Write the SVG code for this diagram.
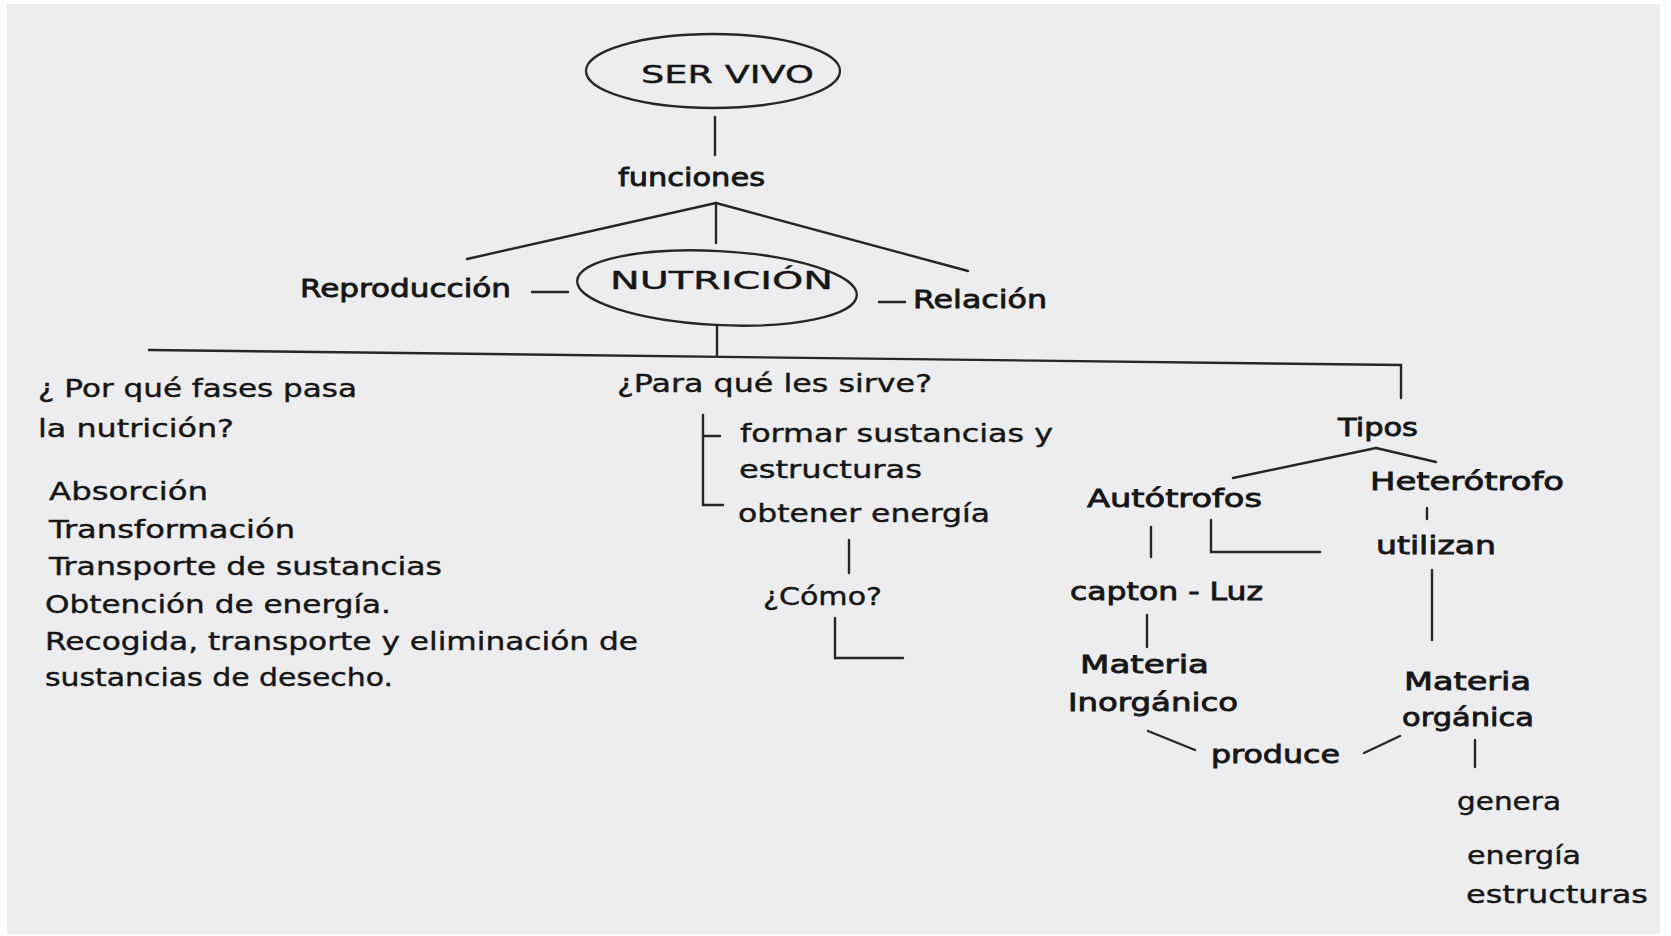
<svg xmlns="http://www.w3.org/2000/svg" width="1671" height="936" viewBox="0 0 1671 936">
<style>
text{font-family:"DejaVu Sans","Liberation Sans",sans-serif;font-size:24px;fill:#161616;stroke:#161616;stroke-width:0.4}
.b{stroke-width:0.8}
.c line,.c polyline,.c path{stroke:#262626;stroke-width:2.4;fill:none;stroke-linecap:round}
.e{fill:none;stroke:#262626;stroke-width:2.3}
</style>
<rect x="0" y="0" width="1671" height="936" fill="#ffffff"/>
<rect x="7" y="4" width="1653" height="930" fill="#ededf0"/>

<g id="connectors" class="c">
<line x1="715" y1="117" x2="715" y2="155"/>
<line x1="716" y1="203" x2="467" y2="259"/>
<line x1="716" y1="203" x2="968" y2="271"/>
<line x1="716" y1="203" x2="716" y2="243"/>
<line x1="532" y1="292" x2="568" y2="292"/>
<line x1="879" y1="302" x2="905" y2="302"/>
<line x1="717" y1="325" x2="717" y2="355"/>
<polyline points="149,350 1401,365 1401,398"/>
<polyline points="720,436 703,436"/>
<polyline points="703,415 703,505 723,505"/>
<line x1="849" y1="540" x2="849" y2="573"/>
<polyline points="835,618 835,658 903,658"/>
<line x1="1233" y1="478" x2="1376" y2="448"/>
<line x1="1376" y1="448" x2="1436" y2="462"/>
<line x1="1427" y1="508" x2="1427" y2="519"/>
<line x1="1151" y1="527" x2="1151" y2="557"/>
<polyline points="1211,520 1211,552 1320,552"/>
<line x1="1432" y1="570" x2="1432" y2="640"/>
<line x1="1147" y1="615" x2="1147" y2="647"/>
<line x1="1148" y1="731" x2="1195" y2="750"/>
<line x1="1364" y1="753" x2="1400" y2="736"/>
<line x1="1475" y1="740" x2="1475" y2="767"/>
</g>

<g id="ser-vivo">
<ellipse class="e" cx="713" cy="71" rx="127" ry="37"/>
<text x="641" y="83" textLength="173" lengthAdjust="spacingAndGlyphs">SER VIVO</text>
</g>
<g id="funciones"><text class="b" x="618" y="186" textLength="147" lengthAdjust="spacingAndGlyphs">funciones</text></g>
<g id="reproduccion"><text class="b" x="300" y="297" textLength="211" lengthAdjust="spacingAndGlyphs">Reproducción</text></g>
<g id="nutricion">
<ellipse class="e" cx="717" cy="288" rx="140" ry="37" transform="rotate(3 717 288)"/>
<text x="610" y="289" textLength="223" lengthAdjust="spacingAndGlyphs">NUTRICIÓN</text>
</g>
<g id="relacion"><text class="b" x="913" y="308" textLength="134" lengthAdjust="spacingAndGlyphs">Relación</text></g>

<g id="fases">
<text x="38" y="397" textLength="319" lengthAdjust="spacingAndGlyphs">¿ Por qué fases pasa</text>
<text x="38" y="437" textLength="196" lengthAdjust="spacingAndGlyphs">la nutrición?</text>
<text x="49" y="500" textLength="159" lengthAdjust="spacingAndGlyphs">Absorción</text>
<text x="49" y="538" textLength="246" lengthAdjust="spacingAndGlyphs">Transformación</text>
<text x="49" y="575" textLength="393" lengthAdjust="spacingAndGlyphs">Transporte de sustancias</text>
<text x="45" y="613" textLength="346" lengthAdjust="spacingAndGlyphs">Obtención de energía.</text>
<text x="45" y="650" textLength="593" lengthAdjust="spacingAndGlyphs">Recogida, transporte y eliminación de</text>
<text x="45" y="686" textLength="348" lengthAdjust="spacingAndGlyphs">sustancias de desecho.</text>
</g>

<g id="para-que">
<text x="617" y="392" textLength="315" lengthAdjust="spacingAndGlyphs">¿Para qué les sirve?</text>
</g>
<g id="formar">
<text x="740" y="442" textLength="313" lengthAdjust="spacingAndGlyphs">formar sustancias y</text>
<text x="739" y="478" textLength="183" lengthAdjust="spacingAndGlyphs">estructuras</text>
</g>
<g id="obtener"><text x="738" y="522" textLength="252" lengthAdjust="spacingAndGlyphs">obtener energía</text></g>
<g id="como"><text x="763" y="605" textLength="119" lengthAdjust="spacingAndGlyphs">¿Cómo?</text></g>

<g id="tipos"><text class="b" x="1338" y="436" textLength="80" lengthAdjust="spacingAndGlyphs">Tipos</text></g>
<g id="autotrofos"><text class="b" x="1087" y="507" textLength="175" lengthAdjust="spacingAndGlyphs">Autótrofos</text></g>
<g id="heterotrofo"><text class="b" x="1370" y="490" textLength="194" lengthAdjust="spacingAndGlyphs">Heterótrofo</text></g>
<g id="utilizan"><text class="b" x="1376" y="554" textLength="120" lengthAdjust="spacingAndGlyphs">utilizan</text></g>
<g id="capton"><text class="b" x="1070" y="600" textLength="193" lengthAdjust="spacingAndGlyphs">capton - Luz</text></g>
<g id="materia-inorganico">
<text class="b" x="1080" y="673" textLength="129" lengthAdjust="spacingAndGlyphs">Materia</text>
<text class="b" x="1068" y="711" textLength="170" lengthAdjust="spacingAndGlyphs">Inorgánico</text>
</g>
<g id="produce"><text class="b" x="1211" y="763" textLength="129" lengthAdjust="spacingAndGlyphs">produce</text></g>
<g id="materia-organica">
<text class="b" x="1404" y="690" textLength="127" lengthAdjust="spacingAndGlyphs">Materia</text>
<text class="b" x="1402" y="726" textLength="132" lengthAdjust="spacingAndGlyphs">orgánica</text>
</g>
<g id="genera"><text x="1457" y="810" textLength="104" lengthAdjust="spacingAndGlyphs">genera</text></g>
<g id="energia-estructuras">
<text x="1467" y="864" textLength="114" lengthAdjust="spacingAndGlyphs">energía</text>
<text x="1466" y="903" textLength="182" lengthAdjust="spacingAndGlyphs">estructuras</text>
</g>
</svg>
